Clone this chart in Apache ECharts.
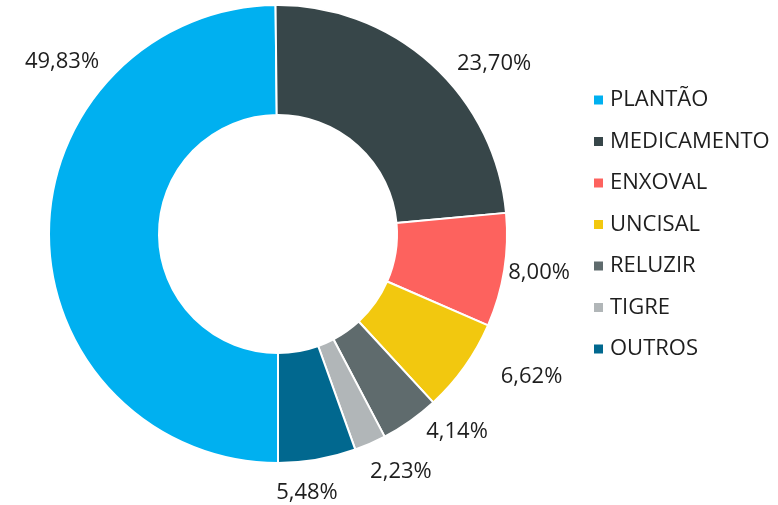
<!DOCTYPE html>
<html>
<head>
<meta charset="utf-8">
<script src="https://cdn.jsdelivr.net/npm/echarts@6/dist/echarts.min.js"></script>
<style>
  html, body { margin: 0; padding: 0; background: #fff; }
  #chart { width: 778px; height: 505px; }
</style>
</head>
<body>
<div id="chart"></div>
<script>
// categorias e valores (%)
const categories = ['PLANTÃO', 'MEDICAMENTO', 'ENXOVAL', 'UNCISAL', 'RELUZIR', 'TIGRE', 'OUTROS'];
const values = [49.83, 23.70, 8.00, 6.62, 4.14, 2.23, 5.48];
const colors = ['#00B0F0', '#374649', '#FD625E', '#F2C80F', '#5F6B6D', '#B1B6B8', '#01688F'];

// posição dos rótulos (ângulo a partir do topo, sentido horário; distância do centro)
const labelAngles = [308.5, 51.8, 98.5, 119.4, 137.9, 152.7, 173.6];
const labelRadii = [276, 275, 264, 291, 267, 268, 260];

const cx = 278, cy = 234;

// PLANTÃO começa embaixo e segue no sentido horário
const chart = echarts.init(document.getElementById('chart'));

chart.setOption({
    animation: false,
    color: colors,
    textStyle: { fontFamily: 'Open Sans' },
    legend: {
        orient: 'vertical',
        left: 587,
        top: 84,
        itemWidth: 11,
        itemHeight: 11,
        itemGap: 19.5,
        icon: 'rect',
        data: categories,
        textStyle: {
            fontSize: 22,
            color: '#1e1e1e',
            lineHeight: 22,
            padding: [0, 0, 0, 1]
        }
    },
    series: [{
        type: 'pie',
        center: [cx, cy],
        radius: [119, 229],
        startAngle: -90,
        clockwise: true,
        avoidLabelOverlap: false,
        itemStyle: { borderColor: '#fff', borderWidth: 2 },
        label: {
            show: true,
            position: 'outside',
            alignTo: 'none',
            overflow: 'none',
            fontSize: 22,
            color: '#1e1e1e',
            formatter: p => p.value.toFixed(2).replace('.', ',') + '%'
        },
        labelLine: { show: false, length: 5, length2: 0 },
        labelLayout: params => {
            const i = params.dataIndex;
            const a = labelAngles[i] * Math.PI / 180;
            return {
                x: cx + labelRadii[i] * Math.sin(a),
                y: cy - labelRadii[i] * Math.cos(a),
                align: 'center',
                verticalAlign: 'middle'
            };
        },
        data: categories.map((name, i) => ({ name, value: values[i] }))
    }]
});
</script>
</body>
</html>
